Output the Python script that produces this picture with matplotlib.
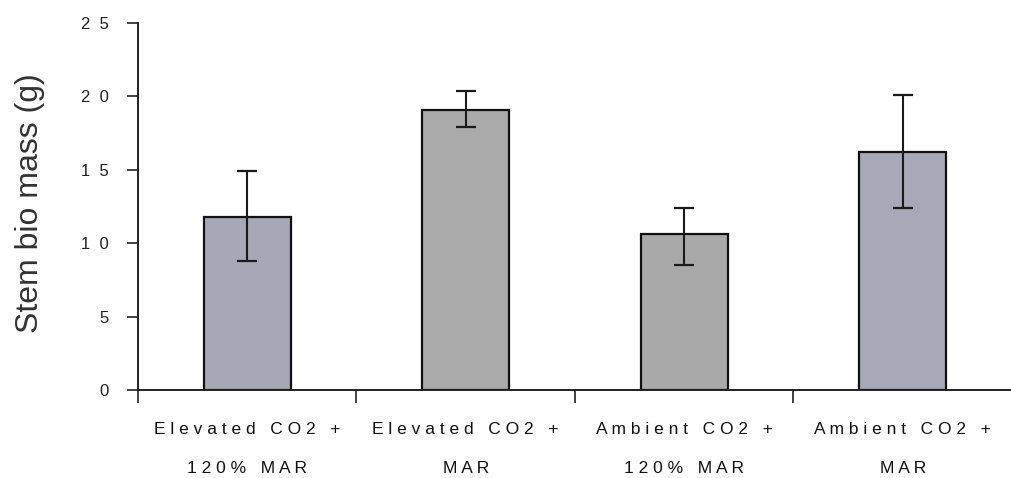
import matplotlib
matplotlib.use("Agg")
import matplotlib.pyplot as plt
import numpy as np

plt.rcParams['font.family'] = ['Liberation Sans', 'DejaVu Sans']

# treatments (line 1 / line 2 of each axis label)
label_top = ["Elevated CO2 +", "Elevated CO2 +", "Ambient CO2 +", "Ambient CO2 +"]
label_bottom = ["120% MAR", "MAR", "120% MAR", "MAR"]

# stem biomass means and error bar extents (g)
biomass = [11.8, 19.1, 10.6, 16.2]
err_low = [3.0, 1.2, 2.1, 3.8]
err_high = [3.1, 1.3, 1.8, 3.9]

bar_colors = ['#a7a8b6', '#aaaaab', '#a9a9aa', '#a8a9b8']
y_ticks = [0, 5, 10, 15, 20, 25]


def spaced(s):
    # old printout style: every character spread apart, words further apart
    return "   ".join(" ".join(w) for w in s.split(" "))


fig = plt.figure(figsize=(10.12, 4.78), dpi=100)
ax = fig.add_axes([138 / 1012, 88 / 478, 874 / 1012, 367 / 478])

x = np.arange(len(biomass))
ax.bar(x, biomass, width=0.4, color=bar_colors, edgecolor='#111111', linewidth=1.6, zorder=2)
ax.errorbar(x, biomass, yerr=[err_low, err_high], fmt='none', ecolor='#1a1a1a',
            elinewidth=1.5, capsize=7, capthick=1.6, zorder=3)

ax.set_xlim(-0.5, 3.5)
ax.set_ylim(0, 25)

# y axis
ax.set_yticks(y_ticks)
ax.set_yticklabels(["  ".join(str(v)) for v in y_ticks], fontsize=12)
ax.tick_params(axis='y', direction='out', length=8, width=1.2, pad=13, colors='#222222')

# x axis: ticks at category boundaries, labels under bar centres
ax.set_xticks(x - 0.5)
ax.set_xticklabels([])
ax.tick_params(axis='x', which='major', direction='out', length=9, width=1.2, colors='#222222')
ax.set_xticks(x, minor=True)
ax.set_xticklabels([spaced(a) + "\n" + spaced(b) for a, b in zip(label_top, label_bottom)],
                   minor=True, fontsize=12.5, linespacing=3.0)
ax.tick_params(axis='x', which='minor', length=0, pad=23, labelcolor='#111111')

ax.spines['top'].set_visible(False)
ax.spines['right'].set_visible(False)
ax.spines['left'].set_linewidth(1.4)
ax.spines['bottom'].set_linewidth(1.4)
ax.spines['left'].set_color('#222222')
ax.spines['bottom'].set_color('#222222')

ax.set_ylabel("Stem bio mass (g)", fontsize=23, color='#333333', va='center')
ax.yaxis.set_label_coords(-0.124, 0.51)

fig.savefig("out.png", dpi=100)
